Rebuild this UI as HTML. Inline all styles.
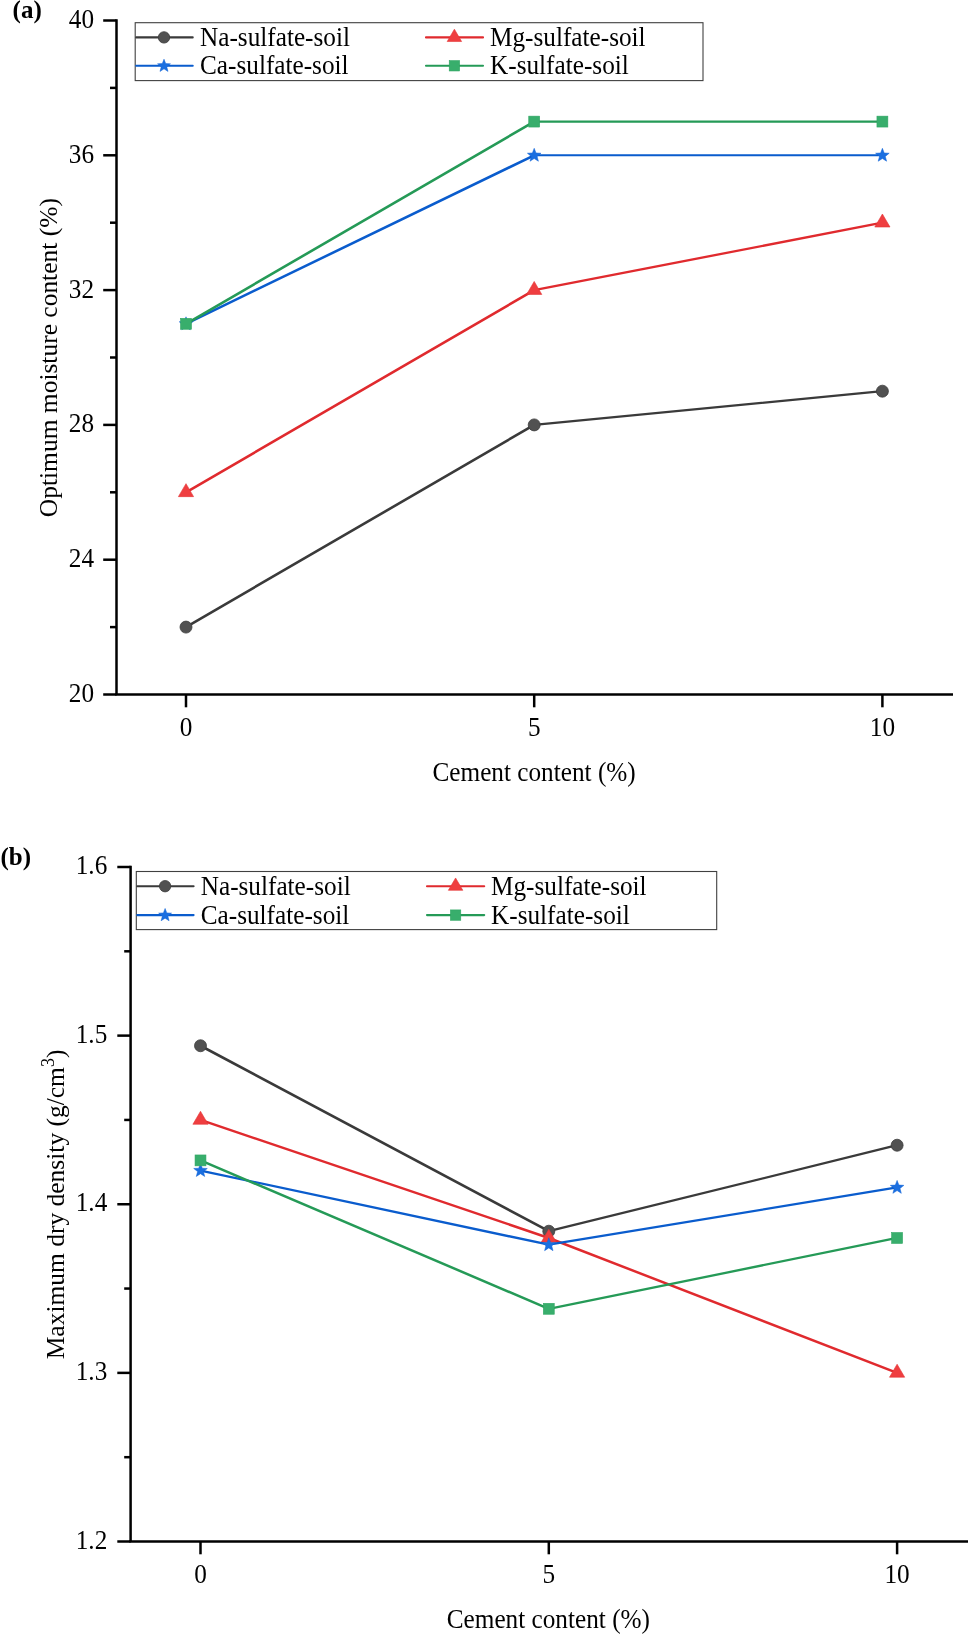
<!DOCTYPE html>
<html><head><meta charset="utf-8"><style>
html,body{margin:0;padding:0;background:#fff;}
svg{display:block;will-change:transform;}
text{font-family:"Liberation Serif", serif;font-size:26px;fill:#000;}
text.pl{font-size:25px;font-weight:bold;}
</style></head><body>
<svg width="968" height="1634" viewBox="0 0 968 1634">
<rect width="968" height="1634" fill="#fff"/>
<line x1="116.5" y1="19.25" x2="116.5" y2="694.5" stroke="#000" stroke-width="2.5"/>
<line x1="115.25" y1="694.5" x2="953.0" y2="694.5" stroke="#000" stroke-width="2.5"/>
<line x1="103.2" y1="20.50" x2="116.5" y2="20.50" stroke="#000" stroke-width="2.5"/>
<text transform="translate(94.00,28.00) scale(0.971,1.045)" text-anchor="end">40</text>
<line x1="103.2" y1="155.30" x2="116.5" y2="155.30" stroke="#000" stroke-width="2.5"/>
<text transform="translate(94.00,162.80) scale(0.971,1.045)" text-anchor="end">36</text>
<line x1="103.2" y1="290.10" x2="116.5" y2="290.10" stroke="#000" stroke-width="2.5"/>
<text transform="translate(94.00,297.60) scale(0.971,1.045)" text-anchor="end">32</text>
<line x1="103.2" y1="424.90" x2="116.5" y2="424.90" stroke="#000" stroke-width="2.5"/>
<text transform="translate(94.00,432.40) scale(0.971,1.045)" text-anchor="end">28</text>
<line x1="103.2" y1="559.70" x2="116.5" y2="559.70" stroke="#000" stroke-width="2.5"/>
<text transform="translate(94.00,567.20) scale(0.971,1.045)" text-anchor="end">24</text>
<line x1="103.2" y1="694.50" x2="116.5" y2="694.50" stroke="#000" stroke-width="2.5"/>
<text transform="translate(94.00,702.00) scale(0.971,1.045)" text-anchor="end">20</text>
<line x1="110.0" y1="87.90" x2="116.5" y2="87.90" stroke="#000" stroke-width="2.5"/>
<line x1="110.0" y1="222.70" x2="116.5" y2="222.70" stroke="#000" stroke-width="2.5"/>
<line x1="110.0" y1="357.50" x2="116.5" y2="357.50" stroke="#000" stroke-width="2.5"/>
<line x1="110.0" y1="492.30" x2="116.5" y2="492.30" stroke="#000" stroke-width="2.5"/>
<line x1="110.0" y1="627.10" x2="116.5" y2="627.10" stroke="#000" stroke-width="2.5"/>
<line x1="186.00" y1="694.5" x2="186.00" y2="707.3" stroke="#000" stroke-width="2.5"/>
<text transform="translate(186.00,736.30) scale(0.971,1.045)" text-anchor="middle">0</text>
<line x1="534.20" y1="694.5" x2="534.20" y2="707.3" stroke="#000" stroke-width="2.5"/>
<text transform="translate(534.20,736.30) scale(0.971,1.045)" text-anchor="middle">5</text>
<line x1="882.40" y1="694.5" x2="882.40" y2="707.3" stroke="#000" stroke-width="2.5"/>
<text transform="translate(882.40,736.30) scale(0.971,1.045)" text-anchor="middle">10</text>
<text transform="translate(534.10,781.40) scale(0.971,1.045)" text-anchor="middle">Cement content (%)</text>
<text transform="translate(56.60,357.65) rotate(-90) scale(0.98,1)" text-anchor="middle">Optimum moisture content (%)</text>
<text class="pl" x="12.6" y="17.9">(a)</text>
<rect x="135.2" y="22.7" width="567.80" height="57.90" fill="#fff" stroke="#404040" stroke-width="1.1"/>
<line x1="136.20" y1="37.4" x2="192.70" y2="37.4" stroke="#3a3a3a" stroke-width="2.1" stroke-linecap="round"/>
<circle cx="164.00" cy="37.40" r="5.70" fill="#515151" stroke="#3d3d3d" stroke-width="0.8"/>
<text transform="translate(200.00,45.90) scale(0.971,1.045)" text-anchor="start">Na-sulfate-soil</text>
<line x1="426.00" y1="37.4" x2="483.00" y2="37.4" stroke="#e02a2e" stroke-width="2.1" stroke-linecap="round"/>
<polygon points="454.40,29.17 461.62,41.52 447.18,41.52" fill="#ef3e40" stroke="#e43535" stroke-width="0.6"/>
<text transform="translate(490.00,45.90) scale(0.971,1.045)" text-anchor="start">Mg-sulfate-soil</text>
<line x1="136.20" y1="65.8" x2="192.70" y2="65.8" stroke="#0a5ccd" stroke-width="2.1" stroke-linecap="round"/>
<polygon points="164.00,59.16 165.70,63.61 170.46,63.85 166.76,66.85 167.99,71.45 164.00,68.85 160.01,71.45 161.24,66.85 157.54,63.85 162.30,63.61" fill="#1b6fe0" stroke="#0e63d6" stroke-width="0.5"/>
<text transform="translate(200.00,74.30) scale(0.971,1.045)" text-anchor="start">Ca-sulfate-soil</text>
<line x1="426.00" y1="65.8" x2="483.00" y2="65.8" stroke="#259a57" stroke-width="2.1" stroke-linecap="round"/>
<rect x="449.22" y="60.62" width="10.36" height="10.36" fill="#38ae6c" stroke="#2fa663" stroke-width="0.6"/>
<text transform="translate(490.00,74.30) scale(0.971,1.045)" text-anchor="start">K-sulfate-soil</text>
<line x1="186.00" y1="627.10" x2="534.20" y2="424.90" stroke="#3a3a3a" stroke-width="2.60" stroke-linecap="round"/>
<line x1="534.20" y1="424.90" x2="882.40" y2="391.20" stroke="#3a3a3a" stroke-width="2.17" stroke-linecap="round"/>
<circle cx="186.00" cy="627.10" r="6.00" fill="#515151" stroke="#3d3d3d" stroke-width="0.8"/>
<circle cx="534.20" cy="424.90" r="6.00" fill="#515151" stroke="#3d3d3d" stroke-width="0.8"/>
<circle cx="882.40" cy="391.20" r="6.00" fill="#515151" stroke="#3d3d3d" stroke-width="0.8"/>
<line x1="186.00" y1="492.30" x2="534.20" y2="290.10" stroke="#e02a2e" stroke-width="2.60" stroke-linecap="round"/>
<line x1="534.20" y1="290.10" x2="882.40" y2="222.70" stroke="#e02a2e" stroke-width="2.29" stroke-linecap="round"/>
<polygon points="186.00,483.63 193.60,496.63 178.40,496.63" fill="#ef3e40" stroke="#e43535" stroke-width="0.6"/>
<polygon points="534.20,281.43 541.80,294.43 526.60,294.43" fill="#ef3e40" stroke="#e43535" stroke-width="0.6"/>
<polygon points="882.40,214.03 890.00,227.03 874.80,227.03" fill="#ef3e40" stroke="#e43535" stroke-width="0.6"/>
<line x1="186.00" y1="323.80" x2="534.20" y2="155.30" stroke="#0a5ccd" stroke-width="2.55" stroke-linecap="round"/>
<line x1="534.20" y1="155.30" x2="882.40" y2="155.30" stroke="#0a5ccd" stroke-width="2.05" stroke-linecap="round"/>
<polygon points="186.00,316.80 187.79,321.48 192.80,321.74 188.90,324.89 190.20,329.73 186.00,327.00 181.80,329.73 183.10,324.89 179.20,321.74 184.21,321.48" fill="#1b6fe0" stroke="#0e63d6" stroke-width="0.5"/>
<polygon points="534.20,148.30 535.99,152.98 541.00,153.24 537.10,156.39 538.40,161.23 534.20,158.50 530.00,161.23 531.30,156.39 527.40,153.24 532.41,152.98" fill="#1b6fe0" stroke="#0e63d6" stroke-width="0.5"/>
<polygon points="882.40,148.30 884.19,152.98 889.20,153.24 885.30,156.39 886.60,161.23 882.40,158.50 878.20,161.23 879.50,156.39 875.60,153.24 880.61,152.98" fill="#1b6fe0" stroke="#0e63d6" stroke-width="0.5"/>
<line x1="186.00" y1="323.80" x2="534.20" y2="121.60" stroke="#259a57" stroke-width="2.60" stroke-linecap="round"/>
<line x1="534.20" y1="121.60" x2="882.40" y2="121.60" stroke="#259a57" stroke-width="2.05" stroke-linecap="round"/>
<rect x="180.55" y="318.35" width="10.90" height="10.90" fill="#38ae6c" stroke="#2fa663" stroke-width="0.6"/>
<rect x="528.75" y="116.15" width="10.90" height="10.90" fill="#38ae6c" stroke="#2fa663" stroke-width="0.6"/>
<rect x="876.95" y="116.15" width="10.90" height="10.90" fill="#38ae6c" stroke="#2fa663" stroke-width="0.6"/>
<line x1="130.6" y1="865.75" x2="130.6" y2="1541.5" stroke="#000" stroke-width="2.5"/>
<line x1="129.35" y1="1541.5" x2="968.0" y2="1541.5" stroke="#000" stroke-width="2.5"/>
<line x1="117.3" y1="867.00" x2="130.6" y2="867.00" stroke="#000" stroke-width="2.5"/>
<text transform="translate(107.30,874.00) scale(0.971,1.045)" text-anchor="end">1.6</text>
<line x1="117.3" y1="1035.62" x2="130.6" y2="1035.62" stroke="#000" stroke-width="2.5"/>
<text transform="translate(107.30,1042.62) scale(0.971,1.045)" text-anchor="end">1.5</text>
<line x1="117.3" y1="1204.25" x2="130.6" y2="1204.25" stroke="#000" stroke-width="2.5"/>
<text transform="translate(107.30,1211.25) scale(0.971,1.045)" text-anchor="end">1.4</text>
<line x1="117.3" y1="1372.88" x2="130.6" y2="1372.88" stroke="#000" stroke-width="2.5"/>
<text transform="translate(107.30,1379.88) scale(0.971,1.045)" text-anchor="end">1.3</text>
<line x1="117.3" y1="1541.50" x2="130.6" y2="1541.50" stroke="#000" stroke-width="2.5"/>
<text transform="translate(107.30,1548.50) scale(0.971,1.045)" text-anchor="end">1.2</text>
<line x1="124.2" y1="951.31" x2="130.6" y2="951.31" stroke="#000" stroke-width="2.5"/>
<line x1="124.2" y1="1119.94" x2="130.6" y2="1119.94" stroke="#000" stroke-width="2.5"/>
<line x1="124.2" y1="1288.56" x2="130.6" y2="1288.56" stroke="#000" stroke-width="2.5"/>
<line x1="124.2" y1="1457.19" x2="130.6" y2="1457.19" stroke="#000" stroke-width="2.5"/>
<line x1="200.50" y1="1541.5" x2="200.50" y2="1554.3" stroke="#000" stroke-width="2.5"/>
<text transform="translate(200.50,1583.20) scale(0.971,1.045)" text-anchor="middle">0</text>
<line x1="548.80" y1="1541.5" x2="548.80" y2="1554.3" stroke="#000" stroke-width="2.5"/>
<text transform="translate(548.80,1583.20) scale(0.971,1.045)" text-anchor="middle">5</text>
<line x1="897.10" y1="1541.5" x2="897.10" y2="1554.3" stroke="#000" stroke-width="2.5"/>
<text transform="translate(897.10,1583.20) scale(0.971,1.045)" text-anchor="middle">10</text>
<text transform="translate(548.35,1627.70) scale(0.971,1.045)" text-anchor="middle">Cement content (%)</text>
<text transform="translate(63.80,1204.40) rotate(-90) scale(0.98,1)" text-anchor="middle">Maximum dry density (g/cm<tspan font-size="18.5" dy="-9.7">3</tspan><tspan dy="9.7">)</tspan></text>
<text class="pl" x="0.5" y="865.4">(b)</text>
<rect x="136.3" y="871.5" width="580.40" height="58.10" fill="#fff" stroke="#404040" stroke-width="1.1"/>
<line x1="137.30" y1="886.2" x2="193.60" y2="886.2" stroke="#3a3a3a" stroke-width="2.1" stroke-linecap="round"/>
<circle cx="165.10" cy="886.20" r="5.70" fill="#515151" stroke="#3d3d3d" stroke-width="0.8"/>
<text transform="translate(200.70,894.80) scale(0.971,1.045)" text-anchor="start">Na-sulfate-soil</text>
<line x1="427.00" y1="886.2" x2="484.20" y2="886.2" stroke="#e02a2e" stroke-width="2.1" stroke-linecap="round"/>
<polygon points="455.60,877.97 462.82,890.32 448.38,890.32" fill="#ef3e40" stroke="#e43535" stroke-width="0.6"/>
<text transform="translate(491.00,894.80) scale(0.971,1.045)" text-anchor="start">Mg-sulfate-soil</text>
<line x1="137.30" y1="915.1" x2="193.60" y2="915.1" stroke="#0a5ccd" stroke-width="2.1" stroke-linecap="round"/>
<polygon points="165.10,908.46 166.80,912.91 171.56,913.15 167.86,916.15 169.09,920.75 165.10,918.15 161.11,920.75 162.34,916.15 158.64,913.15 163.40,912.91" fill="#1b6fe0" stroke="#0e63d6" stroke-width="0.5"/>
<text transform="translate(200.70,923.70) scale(0.971,1.045)" text-anchor="start">Ca-sulfate-soil</text>
<line x1="427.00" y1="915.1" x2="484.20" y2="915.1" stroke="#259a57" stroke-width="2.1" stroke-linecap="round"/>
<rect x="450.42" y="909.92" width="10.36" height="10.36" fill="#38ae6c" stroke="#2fa663" stroke-width="0.6"/>
<text transform="translate(491.00,923.70) scale(0.971,1.045)" text-anchor="start">K-sulfate-soil</text>
<line x1="200.50" y1="1045.74" x2="548.80" y2="1231.23" stroke="#3a3a3a" stroke-width="2.58" stroke-linecap="round"/>
<line x1="548.80" y1="1231.23" x2="897.10" y2="1145.23" stroke="#3a3a3a" stroke-width="2.35" stroke-linecap="round"/>
<circle cx="200.50" cy="1045.74" r="6.00" fill="#515151" stroke="#3d3d3d" stroke-width="0.8"/>
<circle cx="548.80" cy="1231.23" r="6.00" fill="#515151" stroke="#3d3d3d" stroke-width="0.8"/>
<circle cx="897.10" cy="1145.23" r="6.00" fill="#515151" stroke="#3d3d3d" stroke-width="0.8"/>
<line x1="200.50" y1="1119.94" x2="548.80" y2="1237.98" stroke="#e02a2e" stroke-width="2.44" stroke-linecap="round"/>
<line x1="548.80" y1="1237.98" x2="897.10" y2="1372.88" stroke="#e02a2e" stroke-width="2.48" stroke-linecap="round"/>
<polygon points="200.50,1111.27 208.10,1124.27 192.90,1124.27" fill="#ef3e40" stroke="#e43535" stroke-width="0.6"/>
<polygon points="548.80,1229.31 556.40,1242.31 541.20,1242.31" fill="#ef3e40" stroke="#e43535" stroke-width="0.6"/>
<polygon points="897.10,1364.21 904.70,1377.21 889.50,1377.21" fill="#ef3e40" stroke="#e43535" stroke-width="0.6"/>
<line x1="200.50" y1="1170.53" x2="548.80" y2="1244.72" stroke="#0a5ccd" stroke-width="2.31" stroke-linecap="round"/>
<line x1="548.80" y1="1244.72" x2="897.10" y2="1187.39" stroke="#0a5ccd" stroke-width="2.25" stroke-linecap="round"/>
<polygon points="200.50,1163.53 202.29,1168.21 207.30,1168.47 203.40,1171.62 204.70,1176.46 200.50,1173.73 196.30,1176.46 197.60,1171.62 193.70,1168.47 198.71,1168.21" fill="#1b6fe0" stroke="#0e63d6" stroke-width="0.5"/>
<polygon points="548.80,1237.72 550.59,1242.40 555.60,1242.66 551.70,1245.81 553.00,1250.65 548.80,1247.92 544.60,1250.65 545.90,1245.81 542.00,1242.66 547.01,1242.40" fill="#1b6fe0" stroke="#0e63d6" stroke-width="0.5"/>
<polygon points="897.10,1180.39 898.89,1185.07 903.90,1185.33 900.00,1188.48 901.30,1193.32 897.10,1190.59 892.90,1193.32 894.20,1188.48 890.30,1185.33 895.31,1185.07" fill="#1b6fe0" stroke="#0e63d6" stroke-width="0.5"/>
<line x1="200.50" y1="1160.41" x2="548.80" y2="1308.80" stroke="#259a57" stroke-width="2.51" stroke-linecap="round"/>
<line x1="548.80" y1="1308.80" x2="897.10" y2="1237.98" stroke="#259a57" stroke-width="2.30" stroke-linecap="round"/>
<rect x="195.05" y="1154.96" width="10.90" height="10.90" fill="#38ae6c" stroke="#2fa663" stroke-width="0.6"/>
<rect x="543.35" y="1303.35" width="10.90" height="10.90" fill="#38ae6c" stroke="#2fa663" stroke-width="0.6"/>
<rect x="891.65" y="1232.53" width="10.90" height="10.90" fill="#38ae6c" stroke="#2fa663" stroke-width="0.6"/>
</svg>
</body></html>
